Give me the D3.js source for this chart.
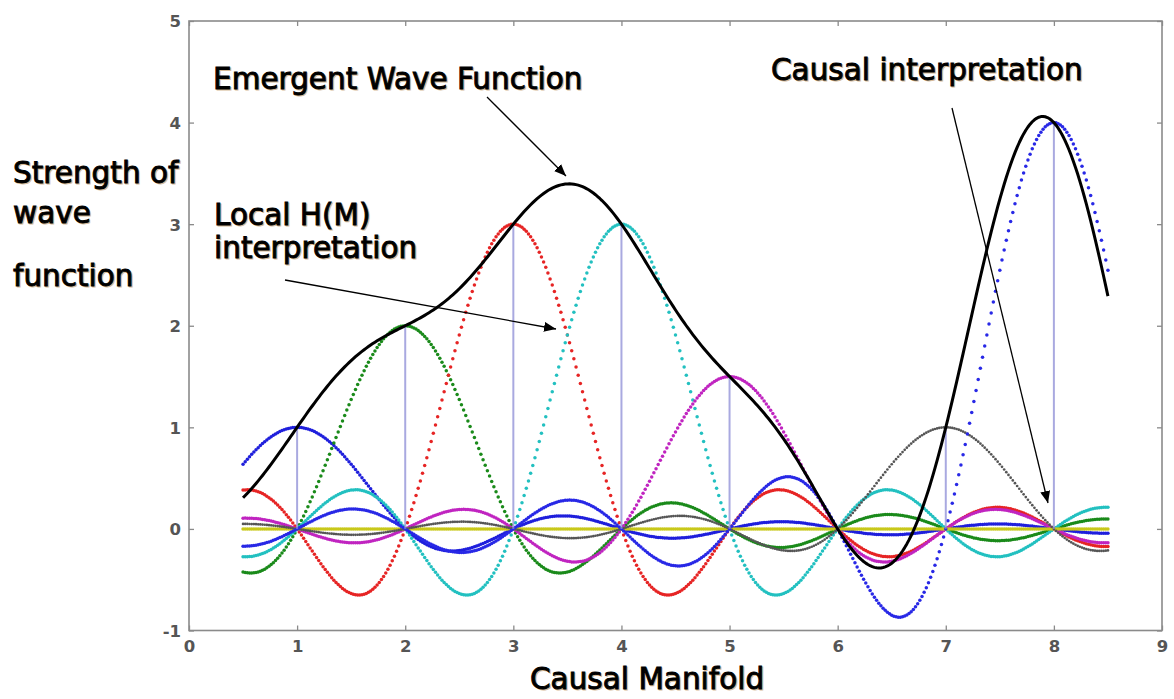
<!DOCTYPE html>
<html><head><meta charset="utf-8">
<script src="https://cdn.jsdelivr.net/npm/d3@7"></script>
<style>
html,body{margin:0;padding:0;background:#fff;}
svg{display:block;}
.lbl{font-family:"DejaVu Sans",Verdana,sans-serif;font-size:29.5px;fill:#000;stroke:#000;stroke-width:0.9px;}
.shadow{fill:#b07830;stroke:#b07830;opacity:0.5;}
.tick text{font-family:"DejaVu Sans",Verdana,sans-serif;font-size:16.5px;font-weight:bold;fill:#555;}
</style></head>
<body>
<script>
// Sample positions on the causal manifold and the amplitudes read from the stems
const samplePositions = [1, 2, 3, 4, 5, 6, 7, 8];
const sampleAmplitudes = [1, 2, 3, 3, 1.5, 0, 1, 4];
const sampleColors = ["#1f1fdc", "#1a8a1a", "#e62424", "#22c0c0", "#c024c0", "#c8c81a", "#555555", "#2828e6"];
const curveDomain = [0.5, 8.5];
const xTicks = [0, 1, 2, 3, 4, 5, 6, 7, 8, 9];
const yTicks = [-1, 0, 1, 2, 3, 4, 5];
const annotations = [
  {lines: ["Emergent Wave Function"], x: 213, y: 89},
  {lines: ["Causal interpretation"], x: 771, y: 80},
  {lines: ["Local H(M)", "interpretation"], x: 214, y: 225, dy: 33},
];

const W = 1174, H = 699;
const svg = d3.select("body").append("svg").attr("width", W).attr("height", H);
const x = d3.scaleLinear().domain([0, 9]).range([189, 1162]);
const y = d3.scaleLinear().domain([-1, 5]).range([630.5, 21]);

// Whittaker–Shannon kernel for each sampled amplitude
const sinc = t => t === 0 ? 1 : Math.sin(Math.PI * t) / (Math.PI * t);
const grid = d3.range(0, 401).map(i => curveDomain[0] + i * 0.02);

// frame
const axisColor = "#8a8a8a";
svg.append("rect").attr("x", x(0)).attr("y", y(5)).attr("width", x(9) - x(0)).attr("height", y(-1) - y(5))
  .attr("fill", "#fff").attr("stroke", axisColor).attr("stroke-width", 1.6);

const fmt = d => String(d);
const gx = svg.append("g").attr("transform", `translate(0,${y(-1)})`)
  .call(d3.axisBottom(x).tickValues(xTicks).tickSize(-5).tickPadding(10).tickFormat(fmt));
const gxt = svg.append("g").attr("transform", `translate(0,${y(5)})`)
  .call(d3.axisTop(x).tickValues(xTicks).tickSize(-5).tickFormat(""));
const gy = svg.append("g").attr("transform", `translate(${x(0)},0)`)
  .call(d3.axisLeft(y).tickValues(yTicks).tickSize(-5).tickPadding(8).tickFormat(fmt));
const gyr = svg.append("g").attr("transform", `translate(${x(9)},0)`)
  .call(d3.axisRight(y).tickValues(yTicks).tickSize(-5).tickFormat(""));
[gx, gxt, gy, gyr].forEach(g => {
  g.select(".domain").remove();
  g.selectAll(".tick line").attr("stroke", axisColor).attr("stroke-width", 1.3);
});
gy.selectAll(".tick text").attr("dy", "0.36em");

// colored sinc components (dotted markers)
samplePositions.forEach((k, i) => {
  const a = sampleAmplitudes[i];
  const pts = grid.map(v => [v, a * sinc(v - k)]);
  svg.append("g").selectAll("circle").data(pts).join("circle")
    .attr("cx", d => x(d[0])).attr("cy", d => y(d[1]))
    .attr("r", i === 6 ? 1.35 : 1.75).attr("fill", sampleColors[i]);
});

// stems
svg.append("g").selectAll("line").data(samplePositions.map((k, i) => [k, sampleAmplitudes[i]]).filter(d => d[1] !== 0))
  .join("line")
  .attr("x1", d => x(d[0])).attr("x2", d => x(d[0]))
  .attr("y1", y(0)).attr("y2", d => y(d[1]))
  .attr("stroke", "#8c8cd6").attr("stroke-opacity", 0.75).attr("stroke-width", 2);

// emergent (summed) wave function
const sumPts = grid.map(v => [v, d3.sum(samplePositions, (k, i) => sampleAmplitudes[i] * sinc(v - k))]);
svg.append("path").datum(sumPts)
  .attr("d", d3.line().x(d => x(d[0])).y(d => y(d[1])))
  .attr("fill", "none").attr("stroke", "#000").attr("stroke-width", 3).attr("stroke-linejoin", "round");

// arrows
const defs = svg.append("defs");
defs.append("marker").attr("id", "ah").attr("viewBox", "0 0 12 10").attr("refX", 12).attr("refY", 5)
  .attr("markerWidth", 12).attr("markerHeight", 10).attr("markerUnits", "userSpaceOnUse").attr("orient", "auto")
  .append("path").attr("d", "M0,0 L12,5 L0,10 Z").attr("fill", "#000");
const arrows = [
  [487, 97, 566, 176],
  [285, 280, 556, 329],
  [952, 108, 1048, 503],
];
svg.append("g").selectAll("line").data(arrows).join("line")
  .attr("x1", d => d[0]).attr("y1", d => d[1]).attr("x2", d => d[2]).attr("y2", d => d[3])
  .attr("stroke", "#000").attr("stroke-width", 1.3).attr("marker-end", "url(#ah)");

// text with slight shadow
function label(lines, x0, y0, dy) {
  lines.forEach((t, j) => {
    const yy = y0 + j * (dy || 0);
    svg.append("text").attr("class", "lbl shadow").attr("x", x0 + 1.2).attr("y", yy + 1.2).text(t);
    svg.append("text").attr("class", "lbl").attr("x", x0).attr("y", yy).text(t);
  });
}
annotations.forEach(a => label(a.lines, a.x, a.y, a.dy));
label(["Strength of"], 13, 183);
label(["wave"], 13, 223);
label(["function"], 13, 286);
label(["Causal Manifold"], 530, 689);
</script>
</body></html>
